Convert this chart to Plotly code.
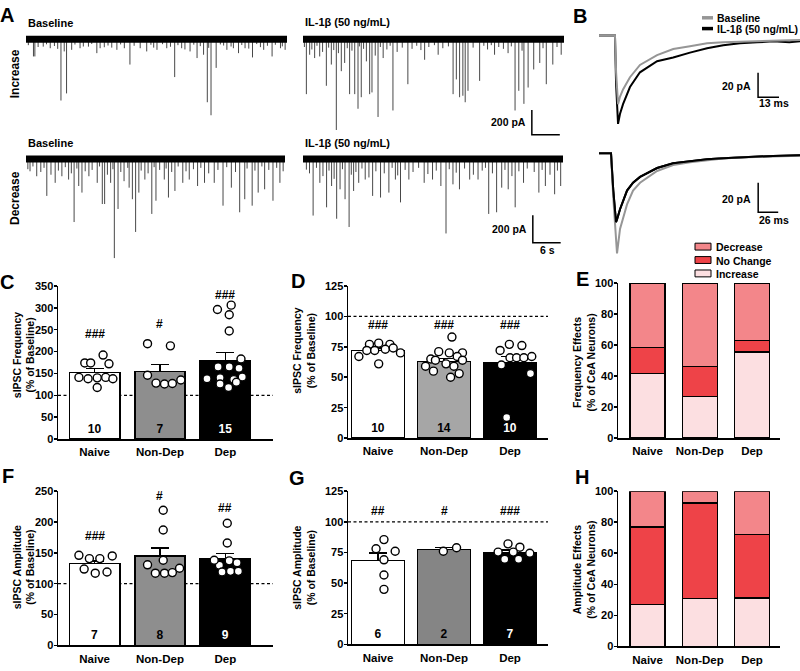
import plotly.graph_objects as go

W, H = 800, 671
FONT = "Liberation Sans, Arial, Helvetica, sans-serif"


def fx(p):
    return p / W


def fy(p):
    return 1 - p / H


CATEGORIES = ["Naive", "Non-Dep", "Dep"]

# ---------------- Panel A: sIPSC events (time in s, amplitude in pA) ----------------
TRACE_LEN_S = 56
A_INC_BASE_T = [1.6, 1.9, 3.7, 5.2, 7.5, 8.2, 8.7, 9.8, 11.6, 13.4, 15.2, 15.9, 18.4, 19.5, 22.3, 24.5,
                25.9, 28.1, 30.2, 31.9, 33.4, 35.2, 36.7, 38.1, 38.9, 39.7, 40.8, 43.1, 44.5, 45.6, 47.0,
                48.6, 51.0, 52.8, 54.6, 55.6]
A_INC_BASE_AMP = [-147, -147, -67, -80, -506, -106, -448, -93, -80, -67, -120, -80, -75, -93, -213, -80,
                  -106, -93, -80, -315, -80, -106, -160, -133, -520, -626, -240, -93, -80, -120, -80,
                  -155, -93, -147, -80, -93]
A_INC_BASE_SMALL_T = [0.5, 2.6, 4.4, 6.1, 6.8, 10.5, 12.3, 14.1, 16.8, 17.6, 20.3, 21.1, 23.2, 26.8, 27.4,
                      29.3, 31.0, 32.6, 34.1, 36.0, 37.4, 39.2, 41.7, 42.4, 44.0, 46.3, 47.8, 49.5, 50.3,
                      51.8, 53.5, 55.0]
A_INC_BASE_SMALL_AMP = [-55, -70, -48, -62, -85, -50, -66, -45, -72, -58, -49, -80, -60, -52, -75, -47,
                        -68, -55, -90, -51, -63, -77, -49, -58, -66, -54, -83, -46, -71, -60, -52, -65]

A_INC_IL_T = [0.72, 1.43, 2.50, 3.58, 5.01, 6.08, 7.15, 8.22, 8.94, 10.0, 11.1, 11.8, 12.5, 13.6, 14.3,
              14.8, 16.1, 17.2, 19.3, 22.5, 26.1, 29.0, 32.2, 32.9, 33.6, 34.3, 34.8, 35.4, 37.9, 41.1,
              44.0, 45.5, 46.3, 47.4, 48.3, 49.5, 50.8, 52.2, 53.6, 55.4]
A_INC_IL_AMP = [-454, -133, -160, -147, -386, -213, -746, -267, -200, -454, -454, -573, -479, -187, -454,
                -440, -640, -160, -587, -373, -174, -133, -454, -334, -479, -467, -520, -427, -346, -133,
                -120, -587, -427, -533, -400, -253, -200, -373, -213, -133]
A_INC_IL_SMALL_T = [0.3, 1.9, 3.0, 4.2, 5.5, 6.6, 7.6, 9.5, 10.5, 12.1, 13.0, 15.5, 16.6, 18.0, 18.7, 20.2,
                    21.3, 23.4, 24.4, 25.3, 27.0, 28.2, 30.0, 31.2, 36.5, 38.8, 39.6, 40.4, 42.0, 43.0,
                    44.7, 47.0, 51.5, 54.5]
A_INC_IL_SMALL_AMP = [-70, -90, -60, -110, -75, -95, -120, -80, -100, -65, -85, -140, -70, -90, -60, -110,
                      -75, -85, -60, -95, -70, -55, -80, -65, -75, -60, -90, -55, -70, -85, -65, -100,
                      -80, -70]

A_DEC_BASE_T = [0.87, 2.32, 4.50, 6.31, 7.76, 9.21, 10.4, 11.4, 12.1, 13.6, 15.4, 16.5, 17.0, 18.3, 19.1,
                19.9, 21.2, 22.3, 23.0, 23.7, 24.4, 25.7, 27.2, 28.1, 29.9, 30.8, 32.2, 33.9, 35.3, 37.1,
                38.6, 40.7, 42.6, 44.4, 46.2, 47.3, 48.9, 50.2, 51.6, 53.4, 54.9, 55.6]
A_DEC_BASE_AMP = [-95, -131, -274, -179, -131, -155, -464, -202, -250, -131, -179, -333, -333, -179, -726,
                  -369, -167, -214, -298, -536, -250, -155, -405, -309, -155, -286, -238, -179, -155, -202,
                  -179, -179, -345, -214, -393, -298, -345, -250, -226, -309, -179, -95]
A_DEC_BASE_SMALL_T = [0.4, 1.5, 3.2, 3.9, 5.4, 7.0, 8.5, 9.8, 11.0, 12.8, 14.3, 15.9, 17.6, 18.8, 20.5,
                      22.0, 24.9, 26.4, 27.7, 28.9, 30.3, 31.5, 32.9, 34.6, 36.2, 37.8, 39.5, 41.5, 43.4,
                      45.3, 47.8, 49.5, 51.0, 52.5, 54.2]
A_DEC_BASE_SMALL_AMP = [-80, -60, -100, -70, -120, -90, -65, -110, -75, -95, -85, -60, -120, -80, -100,
                        -70, -90, -110, -65, -85, -75, -100, -60, -95, -80, -70, -110, -85, -65, -100,
                        -75, -90, -60, -85, -70]

A_DEC_IL_T = [0.73, 2.18, 3.63, 5.08, 6.16, 7.25, 7.98, 9.06, 9.93, 10.9, 12.0, 13.4, 15.0, 16.7, 18.5,
              19.9, 21.0, 22.8, 26.1, 27.9, 29.7, 30.8, 32.3, 33.7, 35.9, 37.7, 40.0, 41.7, 42.8, 44.2,
              45.7, 47.5, 50.8, 52.2, 54.2, 55.5]
A_DEC_IL_AMP = [-83, -417, -179, -357, -202, -440, -226, -298, -500, -238, -179, -155, -274, -286, -250,
                -155, -321, -155, -179, -155, -202, -547, -190, -226, -155, -155, -405, -393, -214, -226,
                -357, -179, -250, -202, -262, -202]
A_DEC_IL_SMALL_T = [1.4, 2.9, 4.3, 5.6, 6.7, 8.5, 10.4, 11.4, 12.7, 14.2, 15.7, 17.5, 19.2, 20.4, 22.0,
                    23.7, 24.9, 26.9, 28.7, 31.5, 33.0, 34.8, 36.7, 38.6, 39.3, 40.8, 43.5, 45.0, 46.5,
                    48.3, 49.8, 51.5, 53.2, 54.8]
A_DEC_IL_SMALL_AMP = [-110, -70, -130, -90, -150, -80, -120, -100, -75, -140, -95, -110, -70, -125, -85,
                      -100, -70, -115, -90, -80, -105, -75, -120, -90, -70, -110, -85, -130, -95, -75,
                      -100, -85, -120, -90]
A_SCALE_PA = 200
A_SCALE_S = 6

# ---------------- Panel B: averaged sIPSCs (time in ms, current in pA) ----------------
B_INC_T = [0, 9.9, 10.6, 11.8, 13.0, 14.9, 19.2, 25.4, 36, 46, 56.4, 67, 77, 87.4, 98, 108, 118, 124.6]
B_INC_BASE = [0, 0, -30, -56, -50, -44, -34, -24, -16, -11, -8.8, -6.4, -5.6, -5, -4.4, -4, -3.8, -3.6]
B_INC_IL = [0, 0, -40, -72, -64, -56, -42, -30, -21, -18, -14, -10.4, -8, -6.4, -5.6, -4.8, -5.6, -4.8]
B_DEC_T = [0, 15.6, 18.5, 22.1, 23.4, 27.3, 36.4, 44.2, 53.3, 75.4, 96.2, 118.3, 140.4, 161.2, 183, 205,
           226, 261]
B_DEC_BASE = [0, 0, -30, -60, -68, -51.4, -34.7, -25.3, -20, -12, -8, -6, -4.7, -3.6, -2.9, -2.7, -2.2, -1.6]
B_DEC_IL = [0, 0, -25, -46.7, -45, -38, -25.3, -20, -16, -10, -6.7, -5.3, -4, -3.3, -2.7, -2.2, -1.8, -1.3]
B_SCALE_PA = 20
B_SCALE_MS_TOP = 13
B_SCALE_MS_BOT = 26

# ---------------- Panel C: frequency, increase ----------------
C_MEAN = [152, 155, 179]
C_SEM = [9, 16, 19]
C_POINTS = [
    [174, 174, 192, 172, 141, 138, 140, 141, 138, 118],
    [218, 213, 146, 128, 126, 127, 135],
    [296, 306, 284, 247, 183, 165, 165, 162, 138, 140, 136, 142, 126, 118, 130],
]
C_SIG = ["###", "#", "###"]

# ---------------- Panel D: frequency, decrease ----------------
D_MEAN = [72, 63, 61.5]
D_SEM = [2, 2.5, 5.5]
D_POINTS = [
    [77, 78, 77, 67, 72, 72, 73, 70, 61, 74],
    [83, 71, 70, 70, 65, 67, 64, 64, 59, 61, 59, 55, 53, 50],
    [72, 77, 76, 60, 66, 66, 66, 67, 53, 17],
]
D_SIG = ["###", "###", "###"]

# ---------------- Panel E: frequency effects (% of CeA neurons) ----------------
EFFECTS = ["Increase", "No Change", "Decrease"]
E_PCT = {"Increase": [41.7, 26.9, 55.6], "No Change": [16.7, 19.2, 7.4], "Decrease": [41.7, 53.8, 37.0]}

# ---------------- Panel F: amplitude, increase ----------------
F_MEAN = [133, 144.5, 140.5]
F_SEM = [4, 13.5, 8.5]
F_POINTS = [
    [146, 140.7, 140.7, 145, 123.7, 117, 119],
    [219, 187, 138, 130.6, 117, 117, 118, 125],
    [198, 166, 130, 137, 134, 119, 120, 120, 138],
]
F_SIG = ["###", "#", "##"]

# ---------------- Panel G: amplitude, decrease ----------------
G_MEAN = [68.4, 77.5, 74.8]
G_SEM = [6, 1.4, 2]
G_POINTS = [
    [85.5, 78, 76, 69, 56.6, 44.9],
    [76, 78.8],
    [82, 79.3, 75.3, 75.3, 74.3, 69.4, 69.4],
]
G_SIG = ["##", "#", "###"]

# ---------------- Panel H: amplitude effects ----------------
H_PCT = {"Increase": [26.9, 30.8, 31.0], "No Change": [50.0, 61.5, 41.0], "Decrease": [23.1, 7.7, 28.0]}

# ---------------- styling (positions / jitter / colours) ----------------
EFFECT_COLORS = {"Increase": "#fcdfe1", "No Change": "#ee4348", "Decrease": "#f3868a"}
JITTER = {
    "C": [[-0.15, -0.06, 0.13, 0.22, -0.24, -0.10, 0.04, 0.17, 0.28, 0.04],
          [-0.19, 0.16, -0.19, -0.06, 0.07, 0.19, 0.32],
          [-0.12, 0.09, 0.06, 0.06, 0.24, -0.11, 0.06, 0.21, -0.28, -0.08, 0.13, 0.26, -0.08, 0.05, 0.17]],
    "D": [[-0.13, 0.01, 0.18, -0.29, -0.17, -0.05, 0.11, 0.34, 0.01, 0.23],
          [0.12, -0.08, 0.28, 0.08, -0.20, 0.20, -0.13, 0.28, -0.28, 0.03, 0.15, -0.16, 0.23, 0.10],
          [-0.15, -0.01, 0.18, -0.13, 0.0, 0.10, 0.21, 0.33, 0.31, -0.05]],
    "F": [[-0.24, -0.08, 0.08, 0.27, -0.16, 0.01, 0.19],
          [0.05, 0.05, 0.05, -0.19, -0.07, 0.07, 0.19, 0.30],
          [0.03, 0.03, -0.09, 0.06, 0.18, -0.05, 0.08, 0.20, -0.17]],
    "G": [[0.09, -0.03, 0.26, 0.09, 0.09, 0.09],
          [-0.01, 0.19],
          [-0.03, 0.15, -0.18, 0.05, 0.30, -0.08, 0.13]],
}

fig = go.Figure()
layout = dict(
    width=W, height=H, margin=dict(l=0, r=0, t=0, b=0),
    paper_bgcolor="white", plot_bgcolor="white", showlegend=False,
    font=dict(family=FONT, color="black"), barmode="stack",
)
annotations = []
shapes = []


def names(n):
    return ("x" if n == 1 else f"x{n}"), ("y" if n == 1 else f"y{n}")


def hidden_axes(n, xpx, ypx, xr, yr):
    xr_, yr_ = names(n)
    layout["xaxis" if n == 1 else f"xaxis{n}"] = dict(
        domain=[fx(xpx[0]), fx(xpx[1])], range=xr, visible=False, anchor=yr_, fixedrange=True)
    layout["yaxis" if n == 1 else f"yaxis{n}"] = dict(
        domain=[fy(ypx[1]), fy(ypx[0])], range=yr, visible=False, anchor=xr_, fixedrange=True)


def bar_axes(n, xpx, ypx, xr, ymax, dtick):
    xr_, yr_ = names(n)
    layout[f"xaxis{n}"] = dict(
        domain=[fx(xpx[0]), fx(xpx[1])], range=xr, tickvals=[0, 1, 2], ticktext=CATEGORIES,
        showline=True, linecolor="black", linewidth=1.5, ticks="", showgrid=False, zeroline=False,
        ticklabelstandoff=2,
        tickfont=dict(size=11.5, color="black", weight="bold"), anchor=yr_, fixedrange=True)
    layout[f"yaxis{n}"] = dict(
        domain=[fy(ypx[1]), fy(ypx[0])], range=[0, ymax], dtick=dtick, tick0=0,
        showline=True, linecolor="black", linewidth=1.5, ticks="outside", ticklen=3, tickwidth=1.5,
        tickcolor="black", showgrid=False, zeroline=False, ticklabelstandoff=-2,
        tickfont=dict(size=11, color="black", weight="bold"), anchor=xr_, fixedrange=True)


def ann(text, x, y, size, xref="paper", yref="paper", xanchor="center", yanchor="middle", angle=0,
        color="black", align="center"):
    annotations.append(dict(text=text, x=x, y=y, xref=xref, yref=yref, xanchor=xanchor, yanchor=yanchor,
                            textangle=angle, showarrow=False, align=align,
                            font=dict(size=size, color=color, family=FONT, weight="bold")))


# ---------------- Panel A ----------------
def spikes(times, amps):
    xs, ys = [], []
    for t, a in zip(times, amps):
        xs += [t, t, None]
        ys += [0, a, None]
    return xs, ys


A_SPECS = [
    (1, (26, 287), (22, 135), [-816, 88], A_INC_BASE_T + A_INC_BASE_SMALL_T,
     A_INC_BASE_AMP + A_INC_BASE_SMALL_AMP),
    (2, (303, 564), (22, 135), [-816, 88], A_INC_IL_T + A_INC_IL_SMALL_T, A_INC_IL_AMP + A_INC_IL_SMALL_AMP),
    (3, (26, 285), (140, 262), [-764, 107], A_DEC_BASE_T + A_DEC_BASE_SMALL_T,
     A_DEC_BASE_AMP + A_DEC_BASE_SMALL_AMP),
    (4, (303, 563), (140, 262), [-764, 107], A_DEC_IL_T + A_DEC_IL_SMALL_T, A_DEC_IL_AMP + A_DEC_IL_SMALL_AMP),
]
for n, xpx, ypx, yr, ts, amps in A_SPECS:
    hidden_axes(n, xpx, ypx, [0, TRACE_LEN_S], yr)
    xa, ya = names(n)
    sx, sy = spikes(ts, amps)
    fig.add_trace(go.Scatter(x=sx, y=sy, mode="lines", line=dict(color="#484848", width=1),
                             xaxis=xa, yaxis=ya, hoverinfo="skip"))
    fig.add_trace(go.Scatter(x=[0, TRACE_LEN_S], y=[-6, -6], mode="lines",
                             line=dict(color="black", width=7), xaxis=xa, yaxis=ya, hoverinfo="skip"))

# scale bars for A (on IL-1β traces)
for n, t0, y0, ytxt, ystxt in [(2, 49.1, -784, -680, -845), (4, 49.5, -614, -514, -670)]:
    xa, ya = names(n)
    fig.add_trace(go.Scatter(x=[t0, t0, t0 + A_SCALE_S], y=[y0 + A_SCALE_PA, y0, y0], mode="lines",
                             line=dict(color="black", width=1.5), xaxis=xa, yaxis=ya, hoverinfo="skip"))
    ann(f"{A_SCALE_PA} pA", t0 - 0.8, ytxt, 10.5, xref=xa, yref=ya, xanchor="right")
    ann(f"{A_SCALE_S} s", t0 + A_SCALE_S / 2 + 0.2, ystxt, 10.5, xref=xa, yref=ya)

ann("Baseline", fx(26), fy(17), 11, xanchor="left")
ann("IL-1β (50 ng/mL)", fx(303), fy(16.5), 11, xanchor="left")
ann("Baseline", fx(26), fy(139), 11, xanchor="left")
ann("IL-1β (50 ng/mL)", fx(303), fy(139), 11, xanchor="left")
ann("Increase", fx(14.5), fy(69), 12, angle=-90)
ann("Decrease", fx(14.5), fy(195), 12, angle=-90)

# ---------------- Panel B ----------------
hidden_axes(5, (599, 800), (5, 125), [0, 124.6], [-76, 20])
hidden_axes(6, (599, 800), (138, 260), [0, 261], [-73.4, 8])
for n, t, base, il in [(5, B_INC_T, B_INC_BASE, B_INC_IL), (6, B_DEC_T, B_DEC_BASE, B_DEC_IL)]:
    xa, ya = names(n)
    fig.add_trace(go.Scatter(x=t, y=il, mode="lines", line=dict(color="black", width=2),
                             xaxis=xa, yaxis=ya, hoverinfo="skip", name="IL-1β (50 ng/mL)"))
    fig.add_trace(go.Scatter(x=t, y=base, mode="lines", line=dict(color="#969696", width=2),
                             xaxis=xa, yaxis=ya, hoverinfo="skip", name="Baseline"))
    if n == 6:  # black trace drawn on top in the lower panel
        fig.add_trace(go.Scatter(x=t, y=il, mode="lines", line=dict(color="black", width=2),
                                 xaxis=xa, yaxis=ya, hoverinfo="skip", name="IL-1β (50 ng/mL)"))

for n, t0, y0, ms in [(5, 98.6, -50.4, B_SCALE_MS_TOP), (6, 206.7, -40, B_SCALE_MS_BOT)]:
    xa, ya = names(n)
    fig.add_trace(go.Scatter(x=[t0, t0, t0 + ms], y=[y0 + B_SCALE_PA, y0, y0], mode="lines",
                             line=dict(color="black", width=1.5), xaxis=xa, yaxis=ya, hoverinfo="skip"))
    ann(f"{B_SCALE_PA} pA", t0 - ms * 0.25, y0 + B_SCALE_PA * 0.45, 10.5, xref=xa, yref=ya, xanchor="right")
    ann(f"{ms} ms", t0 + ms * 0.78, y0 - B_SCALE_PA * 0.25, 10.5, xref=xa, yref=ya)

# B legend
for label, color, ypx in [("Baseline", "#969696", 12), ("IL-1β (50 ng/mL)", "black", 23)]:
    shapes.append(dict(type="line", xref="paper", yref="paper", x0=fx(702), x1=fx(713), y0=fy(ypx),
                       y1=fy(ypx), line=dict(color=color, width=3.5)))
    ann(label, fx(715), fy(ypx), 10.5, xanchor="left")


# ---------------- Bar panels ----------------
def bar_panel(n, key, means, sems, points, sig, sig_y, gray, width):
    xa, ya = names(n)
    colors = ["white", gray, "black"]
    fig.add_trace(go.Bar(
        x=[0, 1, 2], y=means, width=width, marker=dict(color=colors, line=dict(color="black", width=1.5)),
        error_y=dict(type="data", array=sems, arrayminus=[0, 0, 0], symmetric=False, color="black",
                     thickness=1.5, width=9),
        text=[str(len(p)) for p in points], textposition="inside", insidetextanchor="start",
        textangle=0, constraintext="none",
        textfont=dict(size=12, color=["black", "black", "white"], family=FONT, weight="bold"),
        xaxis=xa, yaxis=ya, hoverinfo="skip"))
    for i, (pts, jit) in enumerate(zip(points, JITTER[key])):
        fig.add_trace(go.Scatter(
            x=[i + j for j in jit], y=pts, mode="markers", cliponaxis=False,
            marker=dict(size=8, color="white", line=dict(color="black", width=1.4)),
            xaxis=xa, yaxis=ya, hoverinfo="skip"))
    for i, (s, yv) in enumerate(zip(sig, sig_y)):
        ann(s, i, yv, 12, xref=xa, yref=ya)
    shapes.append(dict(type="line", xref=f"{xa} domain", yref=ya, x0=0, x1=1, y0=100, y1=100,
                       layer="below", line=dict(color="black", width=1.2, dash="3px,2.5px")))


def stack_panel(n, pct):
    xa, ya = names(n)
    for eff in EFFECTS:
        fig.add_trace(go.Bar(x=[0, 1, 2], y=pct[eff], width=0.67, name=eff,
                             marker=dict(color=EFFECT_COLORS[eff], line=dict(color="black", width=1.5)),
                             xaxis=xa, yaxis=ya, hoverinfo="skip"))


bar_axes(7, (58, 273), (285, 441), [-0.56, 2.73], 350, 50)
bar_axes(8, (348, 548), (285, 440), [-0.455, 2.576], 125, 25)
bar_axes(9, (618, 780), (282, 440), [-0.565, 2.536], 100, 20)
bar_axes(10, (58, 273), (494, 651), [-0.56, 2.73], 250, 50)
bar_axes(11, (348, 548), (494, 650), [-0.455, 2.576], 125, 25)
bar_axes(12, (618, 780), (494, 652), [-0.565, 2.536], 100, 20)

bar_panel(7, "C", C_MEAN, C_SEM, C_POINTS, C_SIG, [241, 263, 330], "#8e8e8e", 0.77)
bar_panel(8, "D", D_MEAN, D_SEM, D_POINTS, D_SIG, [92.5, 92.5, 92.5], "#a6a6a6", 0.8)
stack_panel(9, E_PCT)
bar_panel(10, "F", F_MEAN, F_SEM, F_POINTS, F_SIG, [177, 241.5, 223.5], "#8e8e8e", 0.77)
bar_panel(11, "G", G_MEAN, G_SEM, G_POINTS, G_SIG, [108.5, 108.5, 108.5], "#858585", 0.8)
stack_panel(12, H_PCT)

# E legend (one text block, swatches beside each line)
LEG_FONT = 10.5
LEG_TOP = 245
LEG_STEP = LEG_FONT * 1.3
legend_order = list(reversed(EFFECTS))
for k, eff in enumerate(legend_order):
    yc = LEG_TOP + k * LEG_STEP
    shapes.append(dict(type="rect", xref="paper", yref="paper", x0=fx(695), x1=fx(711), y0=fy(yc + 3.5),
                       y1=fy(yc - 3.5), fillcolor=EFFECT_COLORS[eff], line=dict(color="black", width=1)))
ann("<br>".join(legend_order), fx(714), fy(LEG_TOP + LEG_STEP), LEG_FONT, xanchor="left", align="left")

# Y-axis titles
YT = 10.5
ann("sIPSC Frequency<br>(% of Baseline)", fx(23.5), fy(355), YT, angle=-90)
ann("sIPSC Frequency<br>(% of Baseline)", fx(304), fy(351), YT, angle=-90)
ann("Frequency Effects<br>(% of CeA Neurons)", fx(584), fy(363), YT, angle=-90)
ann("sIPSC Amplitude<br>(% of Baseline)", fx(23.5), fy(572), YT, angle=-90)
ann("sIPSC Amplitude<br>(% of Baseline)", fx(304), fy(572), YT, angle=-90)
ann("Amplitude Effects<br>(% of CeA Neurons)", fx(584), fy(574), YT, angle=-90)

# Panel letters
for letter, xp, yp in [("A", 7, 9), ("B", 580, 10), ("C", 7, 281), ("D", 298, 280), ("E", 582, 278),
                       ("F", 8, 479), ("G", 297, 481), ("H", 582, 480)]:
    ann(letter, fx(xp), fy(yp), 20)

layout["annotations"] = annotations
layout["shapes"] = shapes
fig.update_layout(**layout)
fig.write_html("out.html", config={"displayModeBar": False, "staticPlot": True},
               post_script="document.body.style.margin='0';document.body.style.overflow='hidden';")
